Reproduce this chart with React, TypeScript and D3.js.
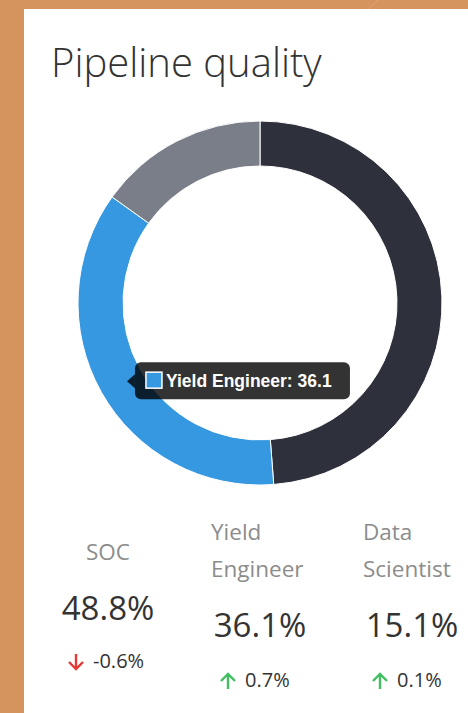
import React from "react";
import * as d3 from "d3";

// chart data
const categories = ["SOC", "Yield Engineer", "Data Scientist"];
const shares = [48.8, 36.1, 15.1];
const changes = [-0.6, 0.7, 0.1];
const labelLines = [["SOC"], ["Yield", "Engineer"], ["Data", "Scientist"]];
const sliceColors = ["#2e303b", "#3698e0", "#7a7e88"];
const activeIndex = 1;

const W = 468;
const H = 713;
const FONT = "'Open Sans', Lato, sans-serif";

export default function App() {
  const cx = 260;
  const cy = 303;

  const pie = d3
    .pie<number>()
    .sort(null)
    .value((d) => d);
  const arcs = pie(shares);

  const arc = d3
    .arc<d3.PieArcDatum<number>>()
    .innerRadius(137)
    .outerRadius(182);

  // tooltip anchored on the active slice centroid
  const [tx, ty] = arc.centroid(arcs[activeIndex]);
  const tipX = cx + tx + 6;
  const tipY = cy + ty;

  // stats columns
  const colX = d3.scalePoint<string>().domain(categories).range([108, 412]);

  const upArrow = "M8 16 L8 1 M1 8 L8 1 L15 8";
  const downArrow = "M8 0 L8 15 M1 8 L8 15 L15 8";

  return (
    <svg
      width={W}
      height={H}
      style={{ position: "fixed", left: 0, top: 0, display: "block" }}
    >
      <rect width={W} height={H} fill="#d5945d" />
      <line x1={378} y1={0} x2={368} y2={9} stroke="#dda577" strokeWidth={1} />
      <rect x={24} y={9} width={W - 24} height={H - 9} fill="#ffffff" />

      <text
        x={51}
        y={77}
        fontFamily={FONT}
        fontWeight={300}
        fontSize={40}
        fill="#333"
      >
        Pipeline quality
      </text>

      <g transform={`translate(${cx},${cy})`}>
        {arcs.map((a, i) => (
          <path
            key={categories[i]}
            d={arc(a) || ""}
            fill={sliceColors[i]}
            stroke="#fff"
            strokeWidth={1}
          />
        ))}
      </g>

      {/* tooltip */}
      <g>
        <path
          d={`M${tipX} ${tipY} L${tipX + 8} ${tipY - 7} L${tipX + 8} ${tipY + 7} Z`}
          fill="rgba(0,0,0,0.8)"
        />
        <rect
          x={tipX + 8}
          y={tipY - 19}
          width={215}
          height={37}
          rx={6}
          fill="rgba(0,0,0,0.8)"
        />
        <rect
          x={tipX + 19}
          y={tipY - 9}
          width={16}
          height={16}
          fill={sliceColors[activeIndex]}
          stroke="#fff"
          strokeWidth={1.5}
        />
        <text
          x={tipX + 39}
          y={tipY + 6}
          fontFamily="'Liberation Sans', Arial, sans-serif"
          fontWeight="bold"
          fontSize={17.5}
          fill="#fff"
        >
          {`${categories[activeIndex]}: ${shares[activeIndex]}`}
        </text>
      </g>

      {/* stats */}
      {categories.map((c, i) => {
        const x = colX(c) as number;
        const lines = labelLines[i];
        const multi = lines.length > 1;
        const up = changes[i] >= 0;
        const valueY = multi ? 637 : 620;
        const changeY = multi ? 687 : 668;
        return (
          <g key={c} fontFamily={FONT}>
            {lines.map((l, j) => (
              <text
                key={l}
                x={multi ? x - 49 : x}
                y={multi ? 540 + j * 37 : 560}
                textAnchor={multi ? "start" : "middle"}
                fontSize={22.5}
                fill="#8c8c8c"
              >
                {l}
              </text>
            ))}
            <text
              x={x}
              y={valueY}
              textAnchor="middle"
              fontSize={33}
              fill="#333"
            >
              {`${shares[i]}%`}
            </text>
            <path
              transform={`translate(${x - 40},${changeY - 14})`}
              d={up ? upArrow : downArrow}
              fill="none"
              stroke={up ? "#3fbf5f" : "#e53935"}
              strokeWidth={2.4}
            />
            <text x={x - 15} y={changeY} fontSize={20} fill="#333">
              {`${changes[i].toFixed(1)}%`}
            </text>
          </g>
        );
      })}
    </svg>
  );
}
